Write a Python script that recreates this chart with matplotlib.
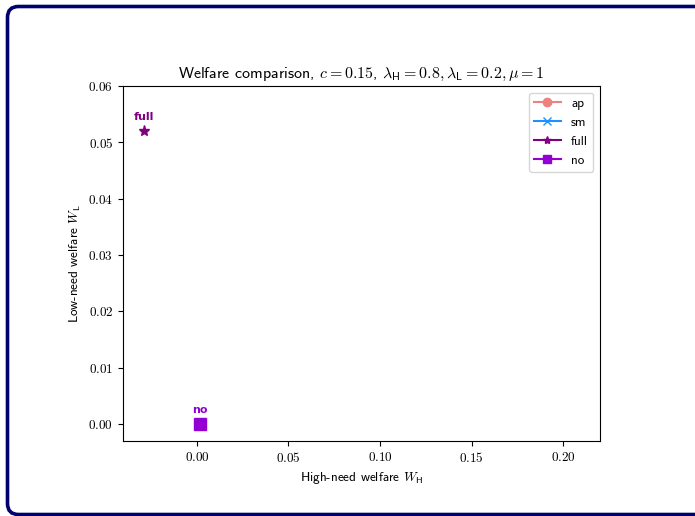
import matplotlib
matplotlib.use("Agg")
import matplotlib.pyplot as plt
from matplotlib.patches import FancyBboxPatch

# ---- data ----
strategies = ["ap", "sm", "full", "no"]
W_H = [0.0015, 0.0015, -0.029, 0.0015]
W_L = [0.0, 0.0, 0.052, 0.0]
colors = ["#f08080", "#1e90ff", "#800080", "#9400d3"]
markers = ["o", "x", "*", "s"]
labeled = ["full", "no"]
xticks = [0.00, 0.05, 0.10, 0.15, 0.20]
yticks = [0.00, 0.01, 0.02, 0.03, 0.04, 0.05, 0.06]

plt.rcParams["font.family"] = ["cmss10", "DejaVu Sans"]
plt.rcParams["mathtext.fontset"] = "cm"
plt.rcParams["axes.formatter.use_mathtext"] = True
plt.rcParams["axes.unicode_minus"] = False

W, H = 695, 516
fig = plt.figure(figsize=(W / 100, H / 100), dpi=100)

# background frame
bg = fig.add_axes([0, 0, 1, 1])
bg.set_xlim(0, W)
bg.set_ylim(0, H)
bg.axis("off")
bg.add_patch(FancyBboxPatch((7.5, 1.5), 700, 508, boxstyle="round,pad=0,rounding_size=11",
                            facecolor="white", edgecolor="#00006e", linewidth=2.6))

ax = fig.add_axes([123 / W, 1 - 441 / H, (600 - 123) / W, (441 - 86) / H])
for name, x, y, c, m in zip(strategies, W_H, W_L, colors, markers):
    ax.plot([x], [y], marker=m, color=c, markersize=8, linestyle="-", label=name)
for name, x, y, c in zip(strategies, W_H, W_L, colors):
    if name in labeled:
        ax.annotate(name, (x, y), xytext=(0, 6.5), textcoords="offset points",
                    ha="center", va="bottom", color=c, fontsize=8,
                    fontweight="bold", family="DejaVu Sans")

ax.set_xlim(-0.0404, 0.2202)
ax.set_ylim(-0.003, 0.06)
ax.set_xticks(xticks)
ax.set_yticks(yticks)
ax.set_xticklabels([f"${v:.2f}$" for v in xticks])
ax.set_yticklabels([f"${v:.2f}$" for v in yticks])
ax.tick_params(labelsize=9.5)
ax.set_xlabel(r"High-need welfare $W_{\mathsf{H}}$", fontsize=9.5)
ax.set_ylabel(r"Low-need welfare $W_{\mathsf{L}}$", fontsize=9.5)
ax.set_title(r"Welfare comparison, $c=0.15$, $\lambda_{\mathsf{H}}=0.8, \lambda_{\mathsf{L}}=0.2, \mu=1$",
             fontsize=11.5)
ax.legend(loc="upper right", fontsize=9.5, markerscale=0.75)

fig.savefig("out.png", dpi=100)
